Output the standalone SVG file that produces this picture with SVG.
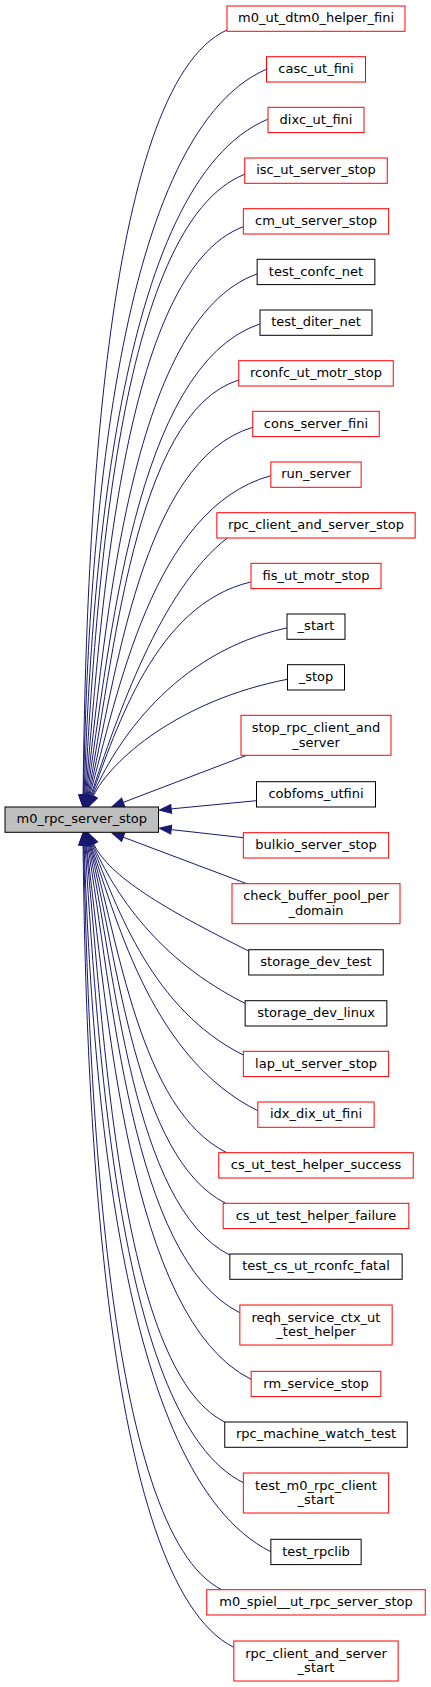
<svg xmlns="http://www.w3.org/2000/svg" width="431" height="1687" viewBox="0 0 431 1687">
<style>
.node rect{fill:#ffffff;stroke:#000000;stroke-width:1}
.node.red rect{stroke:#ff0000}
.node.main rect{fill:#bfbfbf}
.node text{font-family:"DejaVu Sans",sans-serif;font-size:13px;text-anchor:middle;fill:#000000}
#edges path{fill:none;stroke:#191970;stroke-width:1;marker-start:url(#ah)}
</style>
<defs>
<marker id="ah" markerUnits="userSpaceOnUse" markerWidth="13" markerHeight="10" viewBox="0 0 13 10" refX="0.5" refY="5" orient="auto-start-reverse" overflow="visible">
<path d="M0.5,0.5L12.5,5L0.5,9.5Z" fill="#191970" stroke="#191970" stroke-width="1"/>
</marker>
</defs>
<rect width="431" height="1687" fill="#ffffff"/>
<g id="edges">
<path d="M83.1,795C85.5,557.8 101.8,86.3 227,30"/>
<path d="M83.5,795C87.3,570 110.7,137 266.3,69.3"/>
<path d="M84.1,795C91.2,585.5 115.9,182.3 267.7,119.3"/>
<path d="M84.8,795C96.2,602.6 116.8,224.6 244.7,174.3"/>
<path d="M85.6,795C101.1,618.8 121.1,272.3 243.3,226.7"/>
<path d="M86.3,795.1C105.4,633.6 128.6,319.5 257,274"/>
<path d="M87.1,795.1C109.4,649.1 134,366.1 259.7,324"/>
<path d="M88,795.2C113.2,666.5 133.1,413 238.7,380"/>
<path d="M88.8,795.3C115.5,681.2 141.6,460 252.7,427.3"/>
<path d="M89.7,795.4C117.2,696.3 152.3,508.3 270.7,475.7"/>
<path d="M90.8,795.6C117.6,715.6 160,590 227.7,537.7"/>
<path d="M91.5,795.8C116.6,729.5 154.7,604.4 250.7,582"/>
<path d="M92.4,796C114.5,743.9 173.8,652.3 286.7,628"/>
<path d="M93.3,796.2C110.6,760 179.4,700.3 287.3,679.3"/>
<path d="M123.2,802.4L246.7,755.3"/>
<path d="M171.2,808.9L256.3,800.7"/>
<path d="M171.2,829.6L243.5,837.7"/>
<path d="M123.2,837.2L246.7,883.7"/>
<path d="M93.5,843.8C109.9,877 163.5,908.4 248.7,951"/>
<path d="M92.7,844C114.5,893.4 157.7,959.7 245,1003.3"/>
<path d="M91.8,844.2C117.3,909.5 152.9,1009.8 243.3,1055"/>
<path d="M90.8,844.4C118.7,927 153.9,1058.8 257.7,1110.7"/>
<path d="M90.1,844.5C118.8,940 139,1108.8 226.7,1152.7"/>
<path d="M89.3,844.6C117.9,955.8 135,1157.9 225.7,1203.3"/>
<path d="M88.4,844.7C115.7,971.9 132.3,1206.3 229.7,1255"/>
<path d="M87.5,844.8C112.3,989.8 130.7,1258.2 239.7,1312.7"/>
<path d="M86.5,844.9C107.4,1010.6 128.3,1317.9 251,1379.3"/>
<path d="M85.9,844.9C103.6,1023.8 118.4,1368.8 224.7,1422"/>
<path d="M85,845C98,1042.7 117.6,1419.8 243.3,1482.7"/>
<path d="M84.1,845C91.8,1064.1 116.6,1474.6 270.7,1551.7"/>
<path d="M83.7,845C88.5,1075.9 105.2,1531.4 221.7,1589.7"/>
<path d="M83.1,845C85.6,1093.7 102.7,1581.8 233.7,1647.3"/>
</g>
<g id="node-main" class="node main"><rect x="5" y="807" width="153.5" height="25.3"/><text x="81.75" y="823.3">m0_rpc_server_stop</text></g>
<g id="n1" class="node red"><rect x="227" y="6" width="178" height="25.3"/><text x="316" y="22.3">m0_ut_dtm0_helper_fini</text></g>
<g id="n2" class="node red"><rect x="266.5" y="56.7" width="99" height="25.3"/><text x="316" y="73">casc_ut_fini</text></g>
<g id="n3" class="node red"><rect x="268" y="107.3" width="96" height="25.3"/><text x="316" y="123.6">dixc_ut_fini</text></g>
<g id="n4" class="node red"><rect x="244.75" y="158" width="142.5" height="25.3"/><text x="316" y="174.3">isc_ut_server_stop</text></g>
<g id="n5" class="node red"><rect x="243.35" y="208.7" width="145.3" height="25.3"/><text x="316" y="225">cm_ut_server_stop</text></g>
<g id="n6" class="node"><rect x="257.15" y="259.3" width="117.7" height="25.3"/><text x="316" y="275.6">test_confc_net</text></g>
<g id="n7" class="node"><rect x="260" y="310" width="112" height="25.3"/><text x="316" y="326.3">test_diter_net</text></g>
<g id="n8" class="node red"><rect x="238.75" y="360.7" width="154.5" height="25.3"/><text x="316" y="377">rconfc_ut_motr_stop</text></g>
<g id="n9" class="node red"><rect x="252.75" y="411.3" width="126.5" height="25.3"/><text x="316" y="427.6">cons_server_fini</text></g>
<g id="n10" class="node red"><rect x="270.85" y="462" width="90.3" height="25.3"/><text x="316" y="478.3">run_server</text></g>
<g id="n11" class="node red"><rect x="216.85" y="512.7" width="198.3" height="25.3"/><text x="316" y="529">rpc_client_and_server_stop</text></g>
<g id="n12" class="node red"><rect x="251" y="563.3" width="130" height="25.3"/><text x="316" y="579.6">fis_ut_motr_stop</text></g>
<g id="n13" class="node"><rect x="287" y="614" width="58" height="25.3"/><text x="316" y="630.3">_start</text></g>
<g id="n14" class="node"><rect x="287.5" y="664.7" width="57" height="25.3"/><text x="316" y="681">_stop</text></g>
<g id="n15" class="node red"><rect x="241" y="715.3" width="150" height="40"/><text x="316" y="731.8">stop_rpc_client_and</text><text x="316" y="746.6">_server</text></g>
<g id="n16" class="node"><rect x="256.5" y="781.7" width="119" height="25.3"/><text x="316" y="798">cobfoms_utfini</text></g>
<g id="n17" class="node red"><rect x="243.35" y="832.7" width="145.3" height="25.3"/><text x="316" y="849">bulkio_server_stop</text></g>
<g id="n18" class="node red"><rect x="232" y="883.7" width="168" height="40"/><text x="316" y="900.2">check_buffer_pool_per</text><text x="316" y="915">_domain</text></g>
<g id="n19" class="node"><rect x="248.75" y="949.7" width="134.5" height="25.3"/><text x="316" y="966">storage_dev_test</text></g>
<g id="n20" class="node"><rect x="245.15" y="1000.7" width="141.7" height="25.3"/><text x="316" y="1017">storage_dev_linux</text></g>
<g id="n21" class="node red"><rect x="243.35" y="1051.3" width="145.3" height="25.3"/><text x="316" y="1067.6">lap_ut_server_stop</text></g>
<g id="n22" class="node red"><rect x="257.85" y="1102" width="116.3" height="25.3"/><text x="316" y="1118.3">idx_dix_ut_fini</text></g>
<g id="n23" class="node red"><rect x="218.75" y="1152.7" width="194.5" height="25.3"/><text x="316" y="1169">cs_ut_test_helper_success</text></g>
<g id="n24" class="node red"><rect x="223.15" y="1203.3" width="185.7" height="25.3"/><text x="316" y="1219.6">cs_ut_test_helper_failure</text></g>
<g id="n25" class="node"><rect x="229.85" y="1254" width="172.3" height="25.3"/><text x="316" y="1270.3">test_cs_ut_rconfc_fatal</text></g>
<g id="n26" class="node red"><rect x="239.85" y="1305" width="152.3" height="40"/><text x="316" y="1321.5">reqh_service_ctx_ut</text><text x="316" y="1336.3">_test_helper</text></g>
<g id="n27" class="node red"><rect x="251.15" y="1371.3" width="129.7" height="25.3"/><text x="316" y="1387.6">rm_service_stop</text></g>
<g id="n28" class="node"><rect x="224.75" y="1422" width="182.5" height="25.3"/><text x="316" y="1438.3">rpc_machine_watch_test</text></g>
<g id="n29" class="node red"><rect x="243.35" y="1473" width="145.3" height="40"/><text x="316" y="1489.5">test_m0_rpc_client</text><text x="316" y="1504.3">_start</text></g>
<g id="n30" class="node"><rect x="270.85" y="1539.3" width="90.3" height="25.3"/><text x="316" y="1555.6">test_rpclib</text></g>
<g id="n31" class="node red"><rect x="206.75" y="1589.7" width="218.5" height="25.3"/><text x="316" y="1606">m0_spiel__ut_rpc_server_stop</text></g>
<g id="n32" class="node red"><rect x="233.85" y="1641" width="164.3" height="40"/><text x="316" y="1657.5">rpc_client_and_server</text><text x="316" y="1672.3">_start</text></g>
</svg>
